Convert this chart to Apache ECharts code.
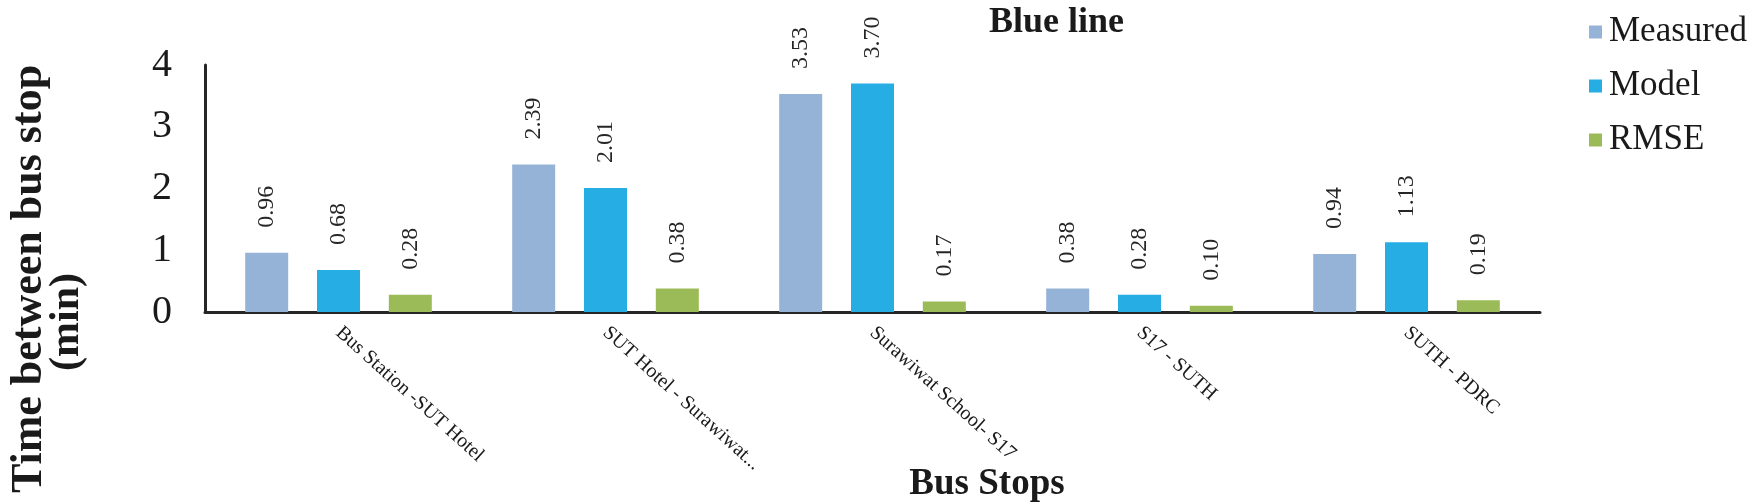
<!DOCTYPE html>
<html>
<head>
<meta charset="utf-8">
<title>Blue line</title>
<script src="https://cdn.jsdelivr.net/npm/echarts@6/dist/echarts.min.js"></script>
<style>
  html, body { margin: 0; padding: 0; background: #fff; }
  #chart { width: 1750px; height: 504px; }
</style>
</head>
<body>
<div id="chart"></div>
<script>
// data
var busStops = ['Bus Station -SUT Hotel', 'SUT Hotel - Surawiwat...', 'Surawiwat School- S17', 'S17 - SUTH', 'SUTH - PDRC'];
var measured = [0.96, 2.39, 3.53, 0.38, 0.94];
var model = [0.68, 2.01, 3.70, 0.28, 1.13];
var rmse = [0.28, 0.38, 0.17, 0.10, 0.19];
var yTicks = [0, 1, 2, 3, 4];

var serif = '"Liberation Serif", "Times New Roman", serif';
var chart = echarts.init(document.getElementById('chart'));

function barLabel() {
  return {
    show: true,
    position: 'top',
    rotate: 90,
    align: 'left',
    verticalAlign: 'middle',
    distance: 25,
    fontFamily: serif,
    fontSize: 24,
    color: '#262626',
    formatter: function (p) { return p.value.toFixed(2); }
  };
}

var option = {
  animation: false,
  title: {
    text: 'Blue line',
    left: 984,
    top: 0,
    textStyle: { fontFamily: serif, fontSize: 36, fontWeight: 'bold', color: '#1a1a1a' }
  },
  legend: {
    orient: 'vertical',
    left: 1584,
    top: 9,
    itemWidth: 13,
    itemHeight: 13,
    itemGap: 18,
    icon: 'rect',
    data: ['Measured', 'Model', 'RMSE'],
    textStyle: { fontFamily: serif, fontSize: 35, lineHeight: 36, color: '#1a1a1a', padding: [0, 0, 0, 2] }
  },
  grid: { left: 205, right: 210, top: 65, bottom: 192 },
  xAxis: {
    type: 'category',
    data: busStops,
    axisLine: { lineStyle: { color: '#262626', width: 3 } },
    axisTick: { show: false },
    axisLabel: {
      interval: 0,
      rotate: -42,
      margin: 18,
      fontFamily: serif,
      fontSize: 20,
      color: '#1a1a1a'
    }
  },
  yAxis: {
    type: 'value',
    min: yTicks[0],
    max: yTicks[yTicks.length - 1],
    interval: 1,
    splitLine: { show: false },
    axisLine: { show: true, lineStyle: { color: '#262626', width: 3 } },
    axisTick: { show: false },
    axisLabel: { margin: 33, fontFamily: serif, fontSize: 40, color: '#1a1a1a' }
  },
  graphic: [
    {
      // y axis title, line 1
      type: 'text',
      x: 30,
      y: 279,
      rotation: Math.PI / 2,
      style: {
        text: 'Time between bus stop',
        fontFamily: serif,
        fontSize: 44,
        fontWeight: 'bold',
        align: 'center',
        verticalAlign: 'middle',
        fill: '#1a1a1a'
      }
    },
    {
      // y axis title, line 2
      type: 'text',
      x: 67,
      y: 322,
      rotation: Math.PI / 2,
      style: {
        text: '(min)',
        fontFamily: serif,
        fontSize: 42,
        fontWeight: 'bold',
        align: 'center',
        verticalAlign: 'middle',
        fill: '#1a1a1a'
      }
    },
    {
      type: 'text',
      x: 987,
      y: 484,
      style: {
        text: 'Bus Stops',
        fontFamily: serif,
        fontSize: 37,
        fontWeight: 'bold',
        align: 'center',
        verticalAlign: 'middle',
        fill: '#1a1a1a'
      }
    }
  ],
  series: [
    { name: 'Measured', type: 'bar', data: measured, barWidth: 43, barGap: '67%', itemStyle: { color: '#95B3D7' }, label: barLabel() },
    { name: 'Model', type: 'bar', data: model, barWidth: 43, barGap: '67%', itemStyle: { color: '#26ADE4' }, label: barLabel() },
    { name: 'RMSE', type: 'bar', data: rmse, barWidth: 43, barGap: '67%', itemStyle: { color: '#9BBB59' }, label: barLabel() }
  ]
};

chart.setOption(option);
</script>
</body>
</html>
